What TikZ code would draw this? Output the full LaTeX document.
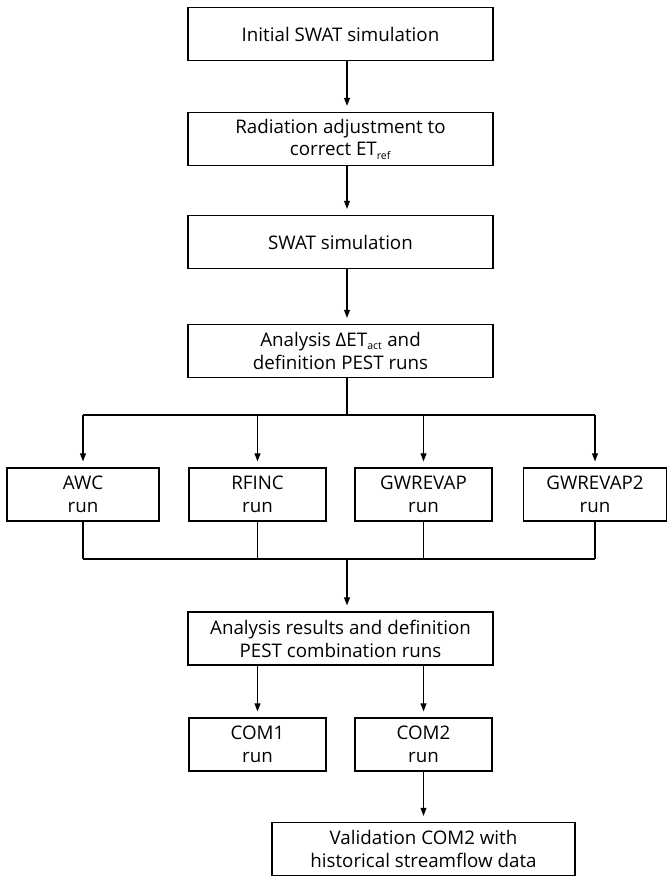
\documentclass[tikz,border=0pt]{standalone}
\usepackage{fontspec}
\setmainfont{Open Sans}
\usetikzlibrary{arrows.meta}
\tikzset{
    flowbox/.style={draw, line width=1.1pt, align=center, inner sep=2pt,
        minimum height=53*0.03cm, font=\fontsize{16}{19.5}\selectfont},
    flowline/.style={line width=1.1pt},
    flowarrow/.style={line width=1.1pt, -{Triangle[length=7pt,width=5pt]},
        shorten >=5pt}
}
\newcommand{\sub}[1]{\textsubscript{\fontsize{9}{9}\selectfont #1}}
\begin{document}
\begin{tikzpicture}[x=0.03cm, y=-0.03cm]
                \useasboundingbox (0,0) rectangle (666,876);
                \node[flowbox, minimum width=305*0.03cm] (init) at (340.5,34)
                    {Initial SWAT simulation};
                \node[flowbox, minimum width=305*0.03cm] (radadj) at (340.5,139)
                    {Radiation adjustment to\\correct ET\sub{ref}};
                \node[flowbox, minimum width=305*0.03cm] (swatsim) at (340.5,242)
                    {SWAT simulation};
                \node[flowbox, minimum width=305*0.03cm] (anadet) at (340.5,351)
                    {Analysis ΔET\sub{act} and\\definition PEST runs};
                \node[flowbox, minimum width=152*0.03cm] (awc) at (83,494.5)
                    {AWC\\run};
                \node[flowbox, minimum width=137*0.03cm] (rfinc) at (257.5,494.5)
                    {RFINC\\run};
                \node[flowbox, minimum width=137*0.03cm] (gwrevap) at (423.5,494.5)
                    {GWREVAP\\run};
                \node[flowbox, minimum width=143*0.03cm] (gwrevaptwo) at (595,494.5)
                    {GWREVAP2\\run};
                \node[flowbox, minimum width=305*0.03cm] (anares) at (340.5,638.5)
                    {Analysis results and definition\\PEST combination runs};
                \node[flowbox, minimum width=137*0.03cm] (comone) at (257.5,744.5)
                    {COM1\\run};
                \node[flowbox, minimum width=137*0.03cm] (comtwo) at (423.5,744.5)
                    {COM2\\run};
                \node[flowbox, minimum width=303*0.03cm] (valid) at (423.5,849)
                    {Validation COM2 with\\historical streamflow data};
                \coordinate (fork) at (347,415);
                \coordinate (join) at (347,559);
                \draw[flowarrow] (init.south -| fork) -- (radadj.north -| fork);
                \draw[flowarrow] (radadj.south -| fork) -- (swatsim.north -| fork);
                \draw[flowarrow] (swatsim.south -| fork) -- (anadet.north -| fork);
                \draw[flowline] (anadet.south -| fork) -- (fork);
                \draw[flowline] (awc.north |- fork) -- (gwrevaptwo.north |- fork);
                \draw[flowline] (awc.south |- join) -- (gwrevaptwo.south |- join);
                \foreach \run in {awc,rfinc,gwrevap,gwrevaptwo}{
                    \draw[flowarrow] (\run.north |- fork) -- (\run.north);
                    \draw[flowline] (\run.south) -- (\run.south |- join);
                }
                \draw[flowarrow] (join) -- (anares.north -| join);
                \draw[flowarrow] (anares.south -| comone) -- (comone.north);
                \draw[flowarrow] (anares.south -| comtwo) -- (comtwo.north);
                \draw[flowarrow] (comtwo.south) -- (valid.north);
            \end{tikzpicture}
\end{document}
